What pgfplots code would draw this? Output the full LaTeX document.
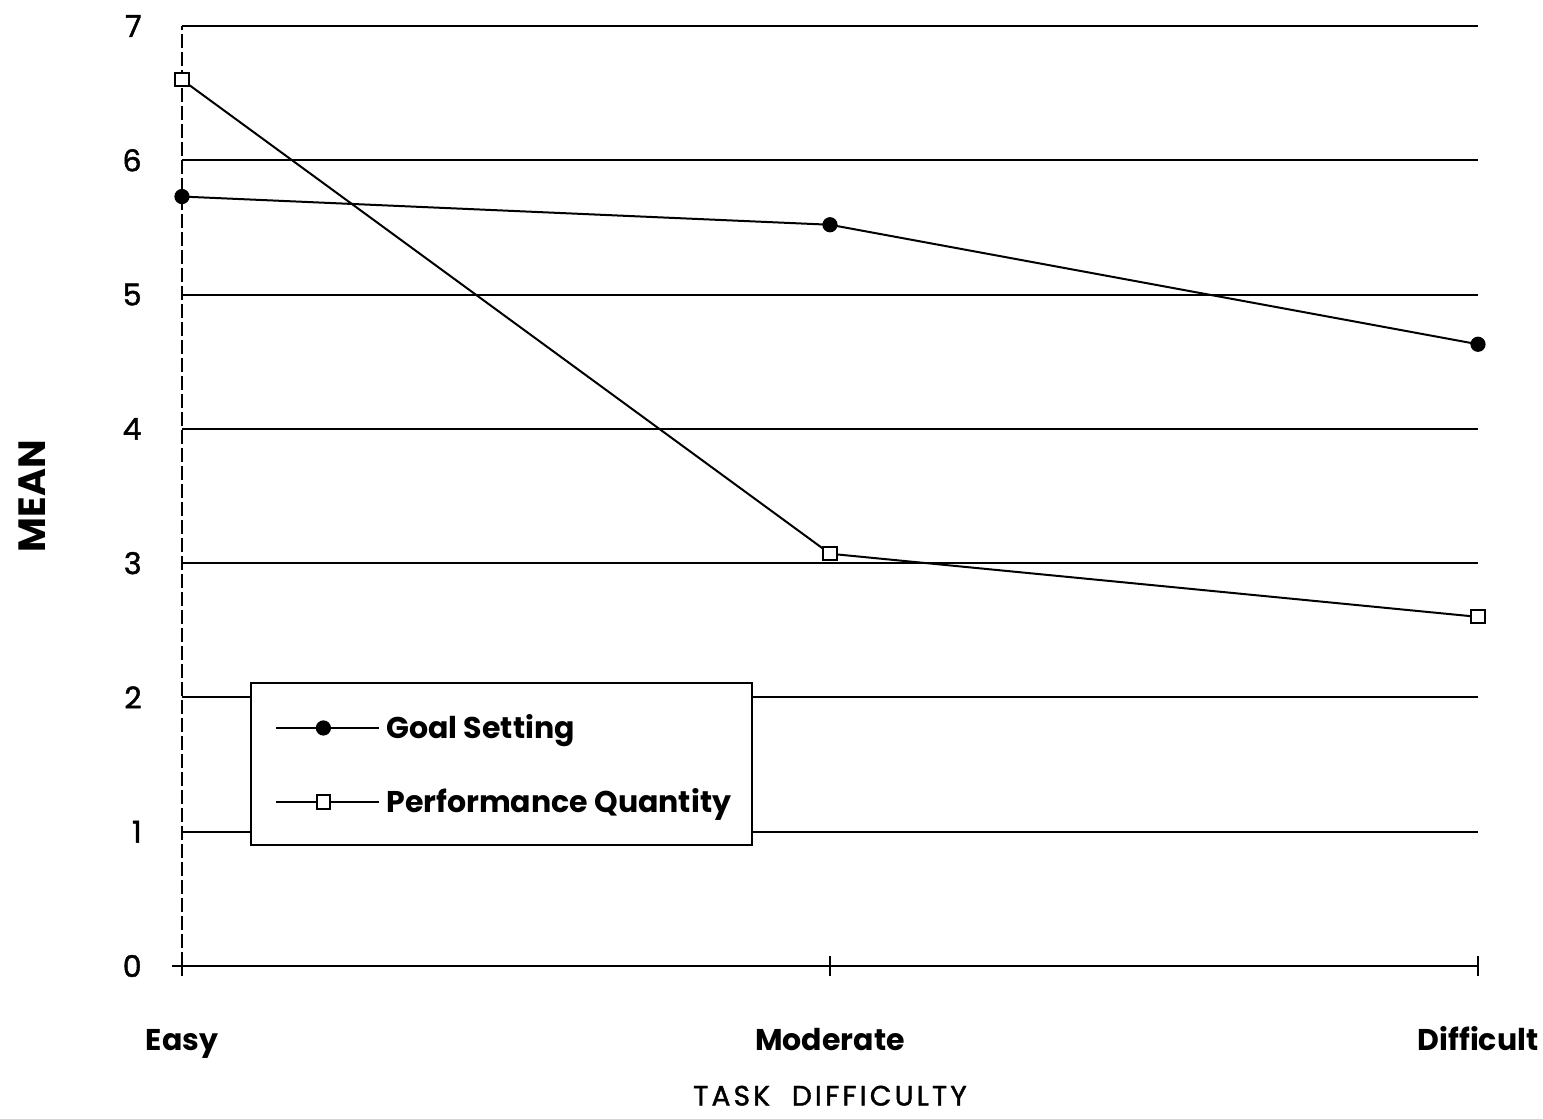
\documentclass[border=0pt]{standalone}
\usepackage{pgfplots}
\pgfplotsset{compat=1.18}
\usepackage{fontspec}
\setmainfont{Poppins}
\newfontfamily\fbfont{Poppins}[FakeBold=1.5]
\newcommand\lk{\kern1.6pt}
\begin{document}
\begin{tikzpicture}
\useasboundingbox (-91pt,-76.5pt) rectangle (680.5pt,483pt);
\begin{axis}[
  scale only axis, width=648pt, height=470pt,
  xmin=0, xmax=2, ymin=0, ymax=7,
  axis x line*=bottom, axis y line*=left,
  x axis line style={line width=1pt, shorten <=-5pt},
  y axis line style={line width=0.8pt, dash pattern=on 7pt off 2pt},
  xtick={0,1,2}, xticklabels={Easy,Moderate,Difficult},
  ytick={0,...,7},
  /pgf/number format/assume math mode=true,
  tick style={black, line width=0.8pt},
  xtick align=center, major tick length=10pt,
  ytick style={line width=1pt},
  y tick label style={anchor=east, inner sep=0pt, xshift=-20pt, font=\fbfont\fontsize{15}{18}\selectfont},
  x tick label style={anchor=base, inner sep=0pt, yshift=-37pt, font=\bfseries\fontsize{15}{18}\selectfont},
  ymajorgrids, grid style={black, line width=1pt},
  xlabel={T\lk A\lk S\lk K\hspace{11pt}D\lk I\lk F\lk F\lk I\lk C\lk U\lk L\lk T\lk Y},
  ylabel={MEAN},
  xlabel style={at={(axis description cs:0.5,-0.138)}, anchor=center, font=\fbfont\fontsize{14}{17}\selectfont},
  ylabel style={at={(axis description cs:-0.116,0.5)}, anchor=center, font=\bfseries\fontsize{19}{22}\selectfont},
  legend style={draw=none, fill=none, at={(axis cs:0.1065,2.107)}, anchor=north west,
    xshift=12pt, yshift=-12.5pt, inner sep=0pt, row sep=17.5pt,
    font=\bfseries\fontsize{15}{18}\selectfont, nodes={inner sep=3pt, anchor=west}},
  legend cell align=left,
  legend image code/.code={\draw[mark repeat=2,mark phase=2,#1] plot coordinates {(0pt,0pt) (23.5pt,0pt) (51.5pt,0pt)};},
]
\addplot[black, line width=1pt, mark=*, mark size=3.3pt, mark options={solid, fill=black}] coordinates {(0,5.73) (1,5.52) (2,4.63)};
\addlegendentry{Goal Setting}
\addplot[black, line width=1pt, mark=square*, mark size=3.3pt, mark options={solid, fill=white}] coordinates {(0,6.60) (1,3.07) (2,2.60)};
\addlegendentry{Performance Quantity}
\draw[line width=1pt, fill=white] (axis cs:0.1065,0.901) rectangle (axis cs:0.8796,2.107);
\end{axis}
\end{tikzpicture}
\end{document}
